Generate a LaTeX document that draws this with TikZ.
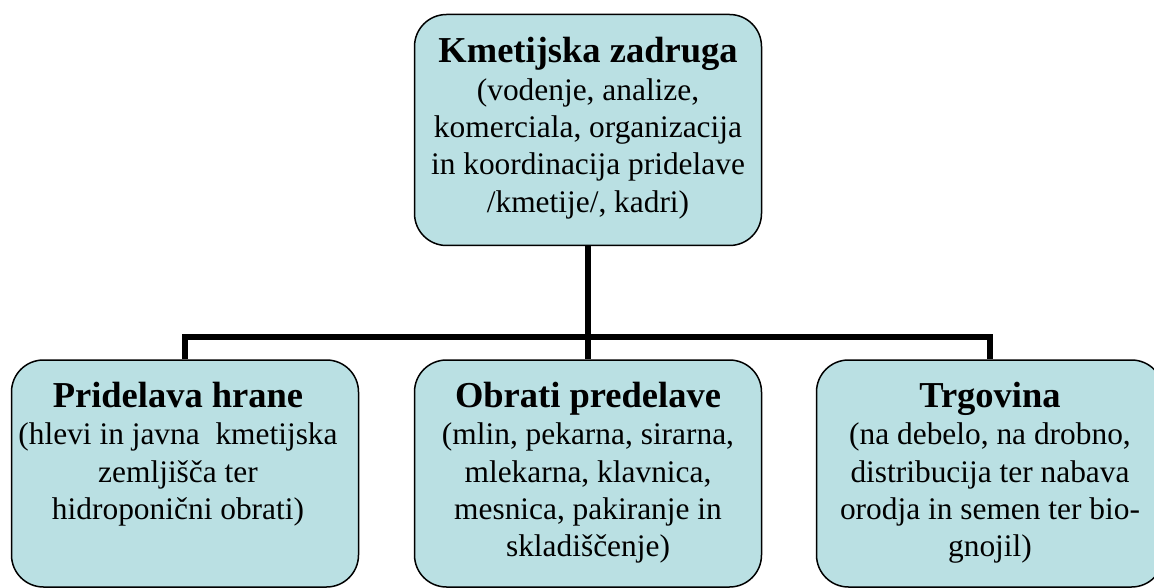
\documentclass[tikz,border=0pt]{standalone}
\usepackage{fontspec}
\setmainfont{Liberation Serif}
\definecolor{boxfill}{RGB}{186,224,227}
\tikzset{
    unit box/.style={draw=black, line width=1.5pt, fill=boxfill, rounded corners=32pt,
        minimum width=347pt, inner sep=0pt},
    unit text/.style={align=center, inner sep=0pt, anchor=north, yshift=-23pt,
        font=\fontsize{31.4}{37.2}\selectfont},
    tree line/.style={line width=5.5pt}
}
\newcommand{\unitname}[1]{{\fontsize{36.5}{39}\selectfont\bfseries #1}}
\begin{document}
\begin{tikzpicture}[x=1pt, y=1pt]
    \useasboundingbox (0,0) rectangle (1154,-588);

    % top unit
    \node[unit box, minimum height=231pt] (zadruga) at (588,-130) {};
    \node[unit text] (zadruga text) at (zadruga.north)
        {\unitname{Kmetijska zadruga}\\[1pt] (vodenje, analize,\\ komerciala, organizacija\\
         in koordinacija pridelave\\ /kmetije/, kadri)};

    % lower units
    \foreach \nm/\x/\dx/\txt in {
        pridelava/185/-7/{\unitname{Pridelava hrane}\\ (hlevi in javna~ kmetijska\\ zemljišča ter\\ hidroponični obrati)},
        obrati/588/0/{\unitname{Obrati predelave}\\ (mlin, pekarna, sirarna,\\ mlekarna, klavnica,\\ mesnica, pakiranje in\\ skladiščenje)},
        trgovina/990/0/{\unitname{Trgovina}\\ (na debelo, na drobno,\\ distribucija ter nabava\\ orodja in semen ter bio-\\ gnojil)}} {
        \node[unit box, minimum height=227pt] (\nm) at (\x,-473.5) {};
        \node[unit text, xshift=\dx] (\nm text) at (\nm.north) {\txt};
    }

    \coordinate (bus) at (588,-337);
    \draw[tree line] (zadruga.south) -- (obrati.north);
    \draw[tree line] (pridelava.north) -- (pridelava.north |- bus)
        -- (trgovina.north |- bus) -- (trgovina.north);
\end{tikzpicture}
\end{document}
